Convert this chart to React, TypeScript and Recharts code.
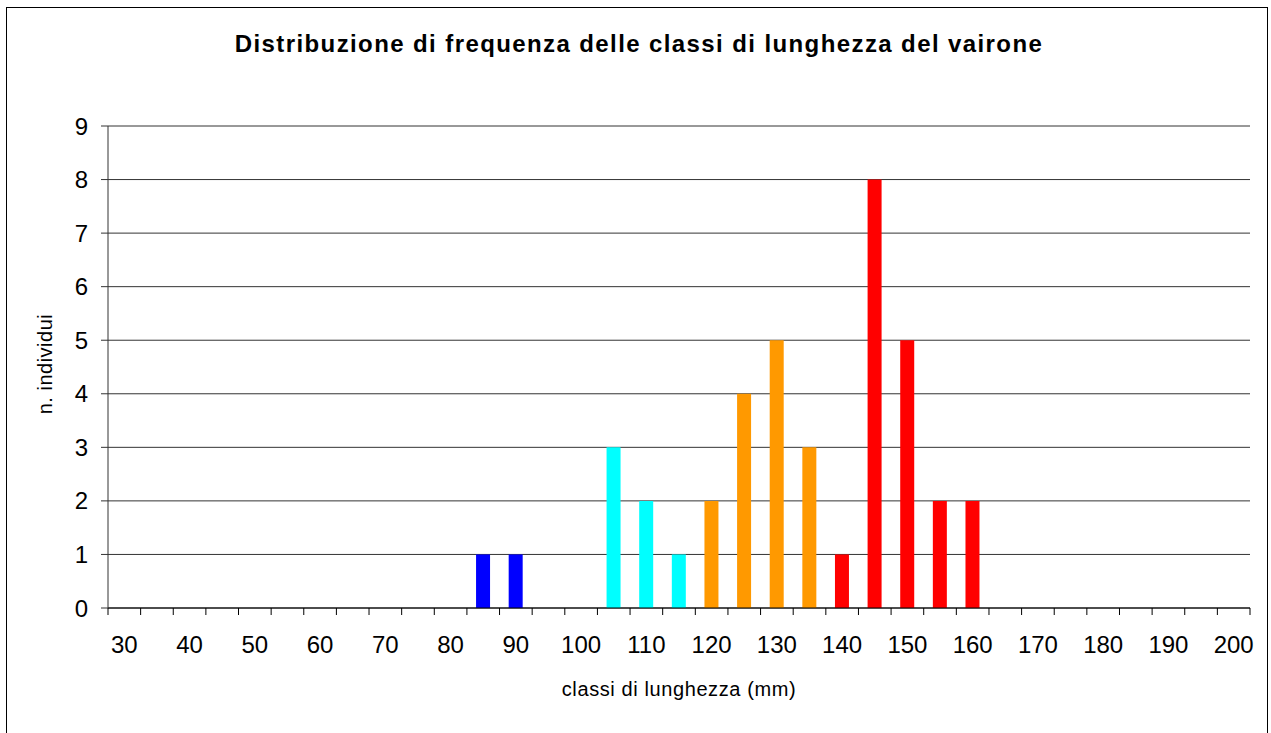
import React from "react";
import { BarChart, Bar, XAxis, YAxis, CartesianGrid, Cell } from "recharts";

// length classes (mm)
const lengthClasses = [
  30, 35, 40, 45, 50, 55, 60, 65, 70, 75, 80, 85, 90, 95, 100, 105, 110, 115,
  120, 125, 130, 135, 140, 145, 150, 155, 160, 165, 170, 175, 180, 185, 190, 195, 200,
];
// number of individuals per class
const individuals = [
  0, 0, 0, 0, 0, 0, 0, 0, 0, 0, 0, 1, 1, 0, 0, 3, 2, 1,
  2, 4, 5, 3, 1, 8, 5, 2, 2, 0, 0, 0, 0, 0, 0, 0, 0,
];
// age group of each class (0..3)
const ageGroup = [
  0, 0, 0, 0, 0, 0, 0, 0, 0, 0, 0, 0, 0, 0, 0, 1, 1, 1,
  2, 2, 2, 2, 3, 3, 3, 3, 3, 3, 3, 3, 3, 3, 3, 3, 3,
];
const yTicks = [0, 1, 2, 3, 4, 5, 6, 7, 8, 9];

const groupColors = ["#0000FF", "#00FFFF", "#FF9900", "#FF0000"];

const data = lengthClasses.map((len, i) => ({
  len,
  n: individuals[i],
  group: ageGroup[i],
}));

const FONT = "'Liberation Sans', Arial, sans-serif";

const XTick = (props: any) => {
  const { x, y, payload, index } = props;
  const half = payload && typeof payload.offset === "number" && payload.offset > 0 ? payload.offset : 16.3;
  const isLast = index === lengthClasses.length - 1;
  const show = Number(payload.value) % 10 === 0;
  return (
    <g>
      <line x1={x - half} x2={x - half} y1={y} y2={y + 7} stroke="#000" strokeWidth={1} />
      {isLast && <line x1={x + half} x2={x + half} y1={y} y2={y + 7} stroke="#000" strokeWidth={1} />}
      {show && (
        <text x={x} y={y + 45} textAnchor="middle" fontSize={24} fill="#000" fontFamily={FONT}>
          {payload.value}
        </text>
      )}
    </g>
  );
};

export default function App() {
  return (
    <div
      style={{
        position: "absolute",
        left: 0,
        top: 0,
        width: 1271,
        height: 733,
        overflow: "hidden",
        background: "#fff",
        fontFamily: FONT,
      }}
    >
      <div
        style={{
          position: "absolute",
          left: 6,
          top: 7,
          width: 1262,
          height: 800,
          border: "1px solid #000",
          boxSizing: "border-box",
        }}
      />
      <div style={{ position: "absolute", left: 0, top: 0 }}>
        <BarChart
          width={1271}
          height={733}
          data={data}
          margin={{ top: 126, right: 21, bottom: 65, left: 48 }}
          barCategoryGap="28%"
        >
          <CartesianGrid vertical={false} stroke="#333" strokeWidth={1} />
          <XAxis
            dataKey="len"
            type="category"
            interval={0}
            height={60}
            tickSize={0}
            tickMargin={0}
            tickLine={false}
            axisLine={{ stroke: "#000", strokeWidth: 1 }}
            tick={<XTick />}
          />
          <YAxis
            width={60}
            domain={[0, 9]}
            ticks={yTicks}
            interval={0}
            tickSize={7}
            tickMargin={13}
            axisLine={{ stroke: "#333", strokeWidth: 1 }}
            tickLine={{ stroke: "#333", strokeWidth: 1 }}
            tick={{ fontSize: 24, fill: "#000", fontFamily: FONT }}
          />
          <Bar dataKey="n" isAnimationActive={false}>
            {data.map((d, i) => (
              <Cell key={i} fill={groupColors[d.group]} />
            ))}
          </Bar>
        </BarChart>
      </div>
      <svg
        width={1271}
        height={733}
        style={{ position: "absolute", left: 0, top: 0, pointerEvents: "none" }}
      >
        <text
          x={639}
          y={52}
          textAnchor="middle"
          fontSize={24}
          fontWeight="bold"
          letterSpacing={1.4}
          fill="#000"
          fontFamily={FONT}
        >
          Distribuzione di frequenza delle classi di lunghezza del vairone
        </text>
        <text
          x={679}
          y={696}
          textAnchor="middle"
          fontSize={20}
          letterSpacing={0.6}
          fill="#000"
          fontFamily={FONT}
        >
          classi di lunghezza (mm)
        </text>
        <text
          x={0}
          y={0}
          transform="translate(52, 364) rotate(-90)"
          textAnchor="middle"
          fontSize={20}
          letterSpacing={0.5}
          fill="#000"
          fontFamily={FONT}
        >
          n. individui
        </text>
      </svg>
    </div>
  );
}
